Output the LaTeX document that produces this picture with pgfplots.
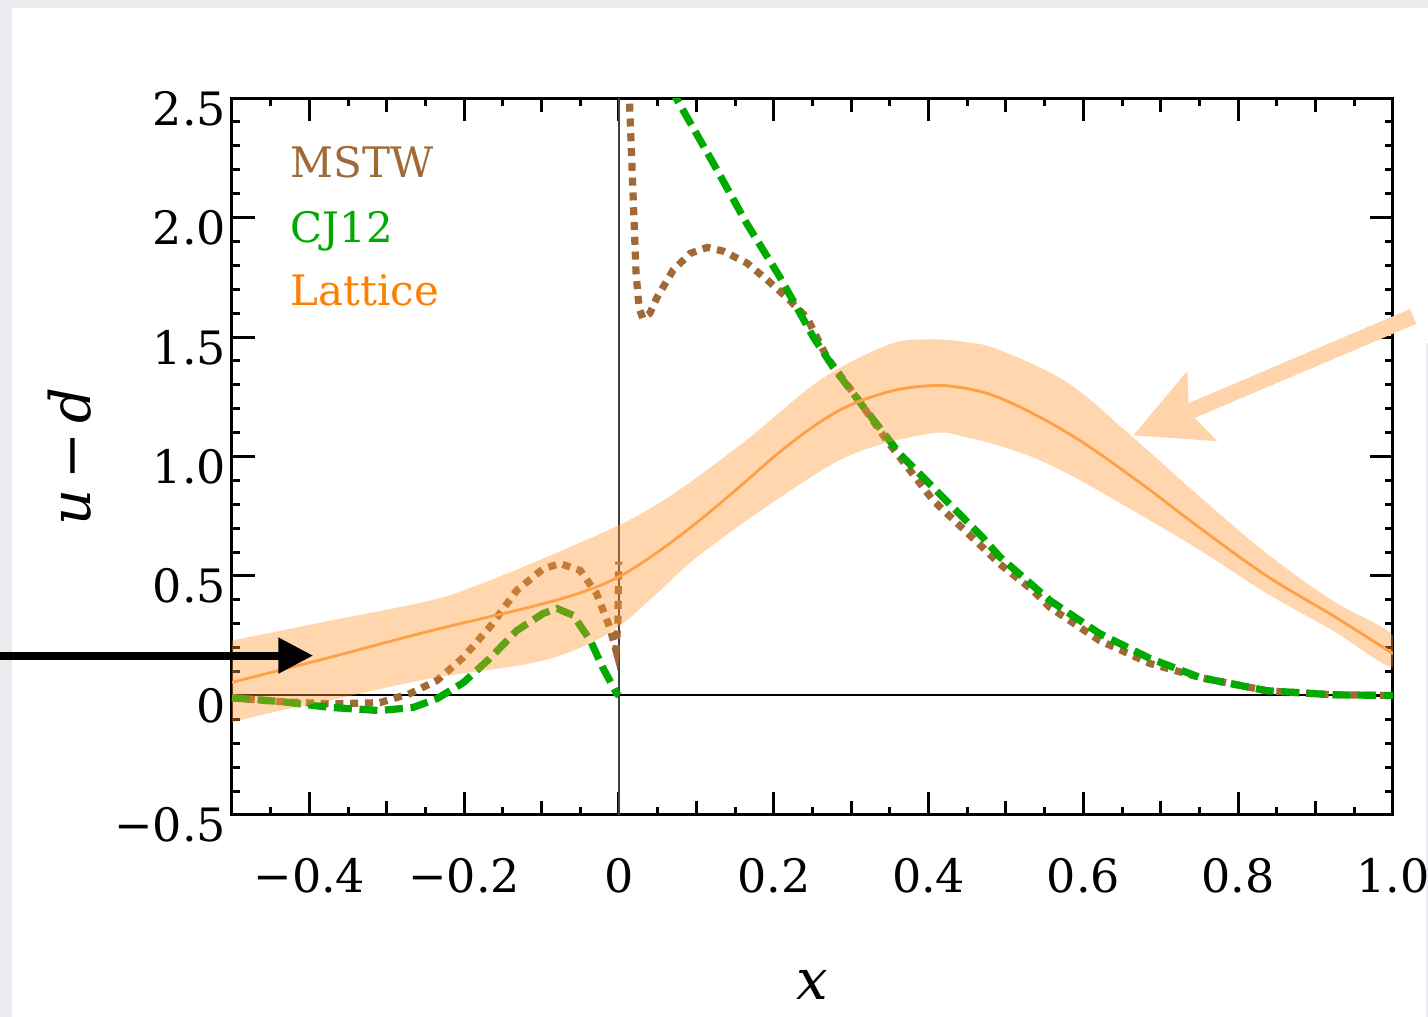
\documentclass[border=0pt]{standalone}
\usepackage{pgfplots}
\pgfplotsset{compat=1.18}
\usepackage{fontspec}
\setmainfont{DejaVu Serif}
\usetikzlibrary{arrows.meta}

\definecolor{mstw}{RGB}{160,105,55}
\definecolor{cj}{RGB}{0,170,0}
\definecolor{latt}{RGB}{255,128,0}
\definecolor{bandc}{RGB}{255,153,51}
\definecolor{peach}{RGB}{255,212,170}
\definecolor{lline}{RGB}{255,160,70}
\definecolor{bggray}{RGB}{233,235,239}

\begin{document}
\begin{tikzpicture}
\fill[bggray] (-58pt,-50.5pt) rectangle (299pt,203.75pt);
\fill[white] (-55pt,-50.5pt) rectangle (299pt,201.75pt);
\fill[bggray] (298.6pt,-50.5pt) rectangle (299pt,118pt);
\begin{axis}[
  at={(0pt,0pt)}, anchor=south west,
  scale only axis, width=290.25pt, height=179.25pt,
  xmin=-0.5, xmax=1.0, ymin=-0.5, ymax=2.5,
  clip mode=individual,
  axis line style={line width=0.75pt},
  every tick/.style={line width=0.75pt, black},
  tick align=inside,
  major tick length=5.75pt, minor tick length=2pt,
  xtick={-0.4,-0.2,0,0.2,0.4,0.6,0.8,1.0},
  xticklabels={−0.4,−0.2,0,0.2,0.4,0.6,0.8,1.0},
  minor xtick={-0.45,-0.35,-0.25,-0.15,-0.05,0.05,0.15,0.25,0.35,0.45,0.55,0.65,0.75,0.85,0.95},
  extra x ticks={-0.3,-0.1,0.1,0.3,0.5,0.7,0.9},
  extra x tick labels={},
  extra x tick style={major tick length=3.5pt},
  ytick={-0.5,0,0.5,1.0,1.5,2.0,2.5},
  yticklabels={−0.5,0,0.5,1.0,1.5,2.0,2.5},
  minor y tick num=4,
  xticklabel style={anchor=base, inner sep=0pt, yshift=-19.5pt, font=\fontsize{11.5}{13}\selectfont},
  yticklabel style={anchor=base east, inner sep=0pt, xshift=-1.3pt, yshift=-6.75pt, font=\fontsize{11.5}{13}\selectfont},
  xlabel={\itshape x},
  xlabel style={at={(axis description cs:0.5,-0.237)}, anchor=center, font=\fontsize{14}{16}\selectfont},
  ylabel={\itshape u\,\upshape−\,\itshape d},
  ylabel style={at={(axis description cs:-0.14,0.5)}, anchor=center, rotate=0, font=\fontsize{14}{16}\selectfont},
]
% zero lines
\draw[line width=0.5pt, black] (axis cs:-0.5,0) -- (axis cs:1,0);
\draw[line width=0.5pt, black!75] (axis cs:0,-0.5) -- (axis cs:0,2.5);

% MSTW
\addplot[mstw, line width=1.8pt, dash pattern=on 2pt off 1.7pt] coordinates {
(-0.5,-0.01) (-0.44,-0.025) (-0.373,-0.035) (-0.309,-0.03) (-0.27,0.008) (-0.235,0.063)
(-0.201,0.16) (-0.167,0.286) (-0.132,0.44) (-0.098,0.53) (-0.076,0.552) (-0.05,0.523)
(-0.029,0.427) (-0.012,0.286) (-0.004,0.19) (-0.0015,0.30) (-0.0003,0.56)
};
\addplot[mstw, line width=1.8pt, dash pattern=on 2pt off 1.7pt] coordinates {
(0.0125,2.6) (0.014,2.45) (0.018,2.11) (0.022,1.77) (0.026,1.62) (0.031,1.577) (0.04,1.60)
(0.049,1.665) (0.07,1.78) (0.092,1.85) (0.114,1.875) (0.134,1.86) (0.165,1.81) (0.191,1.74)
(0.217,1.665) (0.243,1.58) (0.26,1.47) (0.269,1.414) (0.307,1.247) (0.346,1.067) (0.406,0.816)
(0.47,0.619) (0.492,0.55) (0.535,0.439) (0.557,0.368) (0.621,0.23) (0.686,0.134) (0.751,0.075)
(0.837,0.02) (0.922,0.003) (1.0,0.0)
};

% CJ12
\addplot[cj, line width=1.8pt, dash pattern=on 4.5pt off 1.9pt] coordinates {
(-0.5,-0.01) (-0.438,-0.025) (-0.373,-0.05) (-0.309,-0.063) (-0.266,-0.05) (-0.235,-0.013)
(-0.201,0.054) (-0.167,0.155) (-0.132,0.272) (-0.098,0.343) (-0.08,0.364) (-0.059,0.335)
(-0.037,0.23) (-0.021,0.117) (-0.003,0.008) (0.0,0.0)
};
\addplot[cj, line width=1.8pt, dash pattern=on 4.5pt off 1.9pt] coordinates {
(0.068,2.55) (0.072,2.51) (0.122,2.226) (0.165,1.975) (0.208,1.75) (0.251,1.50) (0.277,1.372)
(0.32,1.19) (0.363,1.01) (0.406,0.87) (0.47,0.661) (0.492,0.58) (0.557,0.397)
(0.621,0.259) (0.686,0.155) (0.751,0.075) (0.837,0.02) (0.922,0.003) (1.0,0.0)
};

% Lattice band
\addplot[draw=none, fill=bandc, fill opacity=0.4, smooth, tension=0.6] coordinates {
(-0.5,0.23) (-0.373,0.313) (-0.244,0.397) (-0.18,0.465) (-0.115,0.55) (-0.05,0.64) (0.014,0.735)
(0.08,0.865) (0.169,1.08) (0.26,1.32) (0.346,1.465) (0.398,1.49) (0.45,1.478) (0.492,1.445)
(0.579,1.31) (0.664,1.08) (0.751,0.83) (0.837,0.594) (0.922,0.397) (1.0,0.251)
(1.0,0.117) (0.922,0.272) (0.837,0.427) (0.751,0.607) (0.664,0.774) (0.579,0.929)
(0.518,1.017) (0.45,1.08) (0.402,1.096) (0.302,1.01) (0.212,0.837) (0.105,0.59) (0.05,0.43)
(0.0,0.29) (-0.05,0.2) (-0.115,0.134) (-0.244,0.071) (-0.373,-0.02) (-0.44,-0.065) (-0.5,-0.113)
} -- cycle;

% Lattice central
\addplot[lline, line width=0.7pt, smooth, tension=0.6] coordinates {
(-0.5,0.055) (-0.373,0.160) (-0.244,0.270) (-0.115,0.37) (-0.05,0.43) (0.0,0.497)
(0.05,0.6) (0.105,0.735) (0.16,0.885) (0.208,1.02) (0.26,1.145) (0.302,1.22) (0.35,1.272)
(0.389,1.293) (0.432,1.293) (0.492,1.245) (0.579,1.10) (0.664,0.912)
(0.751,0.70) (0.837,0.50) (0.922,0.335) (1.0,0.175)
};

% legend texts
\node[anchor=base west, inner sep=0pt, text=mstw, font=\fontsize{10.5}{12}\selectfont] at (axis cs:-0.425,2.167) {MSTW};
\node[anchor=base west, inner sep=0pt, text=cj, font=\fontsize{10.5}{12}\selectfont] at (axis cs:-0.425,1.895) {CJ12};
\node[anchor=base west, inner sep=0pt, text=latt, font=\fontsize{10.5}{12}\selectfont] at (axis cs:-0.425,1.632) {Lattice};

% arrows
\draw[line width=2pt, black, -{Triangle[length=8.75pt,width=8.5pt]}] (axis cs:-0.80,0.167) -- (axis cs:-0.395,0.167);
\draw[line width=4pt, peach, -{Stealth[length=18.4pt,width=18.2pt,inset=3.2pt]}] (axis cs:1.026,1.586) -- (axis cs:0.664,1.088);
\end{axis}
\pgfresetboundingbox
\useasboundingbox (-58pt,-50.5pt) rectangle (299pt,203.75pt);
\end{tikzpicture}
\end{document}
